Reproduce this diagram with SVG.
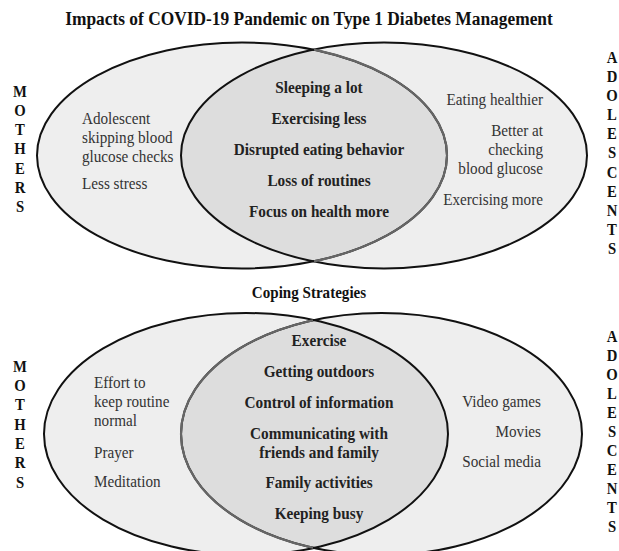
<svg xmlns="http://www.w3.org/2000/svg" width="619" height="551" viewBox="0 0 619 551">
<style>
text{font-family:"Liberation Serif","Times New Roman",serif}
.title{font-weight:bold;font-size:18.9px;fill:#111;text-anchor:middle}
.sub{font-weight:bold;font-size:16.4px;fill:#111;text-anchor:middle}
.lab{font-weight:bold;font-size:16px;fill:#111;text-anchor:middle}
.c{font-weight:bold;font-size:16.6px;fill:#222;text-anchor:middle}
.t{font-size:16.5px;fill:#333}
.r{text-anchor:end}
.ef{fill:#eeeeee}
.lens{fill:#dddddd}
.bk{fill:none;stroke:#111;stroke-width:2}
.gr{fill:none;stroke:#666;stroke-width:2.2}
</style>
<defs>
<clipPath id="clipTR"><ellipse cx="384" cy="155.5" rx="203" ry="113"/></clipPath>
<clipPath id="halfT"><rect x="314" y="0" width="200" height="290"/></clipPath>
<clipPath id="clipBR"><ellipse cx="381.5" cy="434" rx="200.5" ry="121"/></clipPath>
<clipPath id="halfB"><rect x="100" y="300" width="213" height="260"/></clipPath>
</defs>
<g id="top-venn">
<g id="top-mothers"><ellipse class="ef" cx="242" cy="155.5" rx="205" ry="113"/></g>
<g id="top-adolescents"><ellipse class="ef" cx="384" cy="155.5" rx="203" ry="113"/></g>
<g id="top-both"><ellipse class="lens" cx="242" cy="155.5" rx="205" ry="113" clip-path="url(#clipTR)"/></g>
</g>
<g id="bottom-venn">
<g id="bot-mothers"><ellipse class="ef" cx="246" cy="434" rx="202" ry="121"/></g>
<g id="bot-adolescents"><ellipse class="ef" cx="381.5" cy="434" rx="200.5" ry="121"/></g>
<g id="bot-both"><ellipse class="lens" cx="246" cy="434" rx="202" ry="121" clip-path="url(#clipBR)"/></g>
</g>
<g id="connectors">
<ellipse class="bk" cx="242" cy="155.5" rx="205" ry="113"/>
<ellipse class="bk" cx="384" cy="155.5" rx="203" ry="113"/>
<ellipse class="gr" cx="242" cy="155.5" rx="205" ry="113" clip-path="url(#halfT)"/>
<ellipse class="bk" cx="246" cy="434" rx="202" ry="121"/>
<ellipse class="bk" cx="381.5" cy="434" rx="200.5" ry="121"/>
<ellipse class="gr" cx="381.5" cy="434" rx="200.5" ry="121" clip-path="url(#halfB)"/>
</g>
<g id="texts" transform="scale(0.92 1)">
<text class="title" x="335.87" y="25">Impacts of COVID-19 Pandemic on Type 1 Diabetes Management</text>
<text class="sub" x="335.87" y="298">Coping Strategies</text>
<g id="top-labels">
<text class="lab" x="21.74" y="97">M</text><text class="lab" x="21.74" y="116">O</text><text class="lab" x="21.74" y="135">T</text><text class="lab" x="21.74" y="154">H</text><text class="lab" x="21.74" y="174">E</text><text class="lab" x="21.74" y="193">R</text><text class="lab" x="21.74" y="212">S</text>
<text class="lab" x="665.22" y="63">A</text><text class="lab" x="665.22" y="82">D</text><text class="lab" x="665.22" y="101">O</text><text class="lab" x="665.22" y="120">L</text><text class="lab" x="665.22" y="139">E</text><text class="lab" x="665.22" y="158">S</text><text class="lab" x="665.22" y="178">C</text><text class="lab" x="665.22" y="197">E</text><text class="lab" x="665.22" y="216">N</text><text class="lab" x="665.22" y="235">T</text><text class="lab" x="665.22" y="254">S</text>
<text class="t" x="89.13" y="124">Adolescent</text>
<text class="t" x="89.13" y="143">skipping blood</text>
<text class="t" x="89.13" y="162">glucose checks</text>
<text class="t" x="89.13" y="189">Less stress</text>
<text class="c" x="346.74" y="93">Sleeping a lot</text>
<text class="c" x="346.74" y="124">Exercising less</text>
<text class="c" x="346.74" y="155">Disrupted eating behavior</text>
<text class="c" x="346.74" y="186">Loss of routines</text>
<text class="c" x="346.74" y="217">Focus on health more</text>
<text class="t r" x="590.22" y="105">Eating healthier</text>
<text class="t r" x="590.22" y="136">Better at</text>
<text class="t r" x="590.22" y="155">checking</text>
<text class="t r" x="590.22" y="174">blood glucose</text>
<text class="t r" x="590.22" y="205">Exercising more</text>
</g>
<g id="bottom-labels">
<text class="lab" x="21.74" y="372">M</text><text class="lab" x="21.74" y="391">O</text><text class="lab" x="21.74" y="410">T</text><text class="lab" x="21.74" y="430">H</text><text class="lab" x="21.74" y="449">E</text><text class="lab" x="21.74" y="468">R</text><text class="lab" x="21.74" y="488">S</text>
<text class="lab" x="665.22" y="342">A</text><text class="lab" x="665.22" y="361">D</text><text class="lab" x="665.22" y="380">O</text><text class="lab" x="665.22" y="399">L</text><text class="lab" x="665.22" y="418">E</text><text class="lab" x="665.22" y="437">S</text><text class="lab" x="665.22" y="456">C</text><text class="lab" x="665.22" y="475">E</text><text class="lab" x="665.22" y="494">N</text><text class="lab" x="665.22" y="513">T</text><text class="lab" x="665.22" y="532">S</text>
<text class="t" x="102.17" y="388">Effort to</text>
<text class="t" x="102.17" y="407">keep routine</text>
<text class="t" x="102.17" y="426">normal</text>
<text class="t" x="102.17" y="458">Prayer</text>
<text class="t" x="102.17" y="487">Meditation</text>
<text class="c" x="346.74" y="346">Exercise</text>
<text class="c" x="346.74" y="377">Getting outdoors</text>
<text class="c" x="346.74" y="408">Control of information</text>
<text class="c" x="346.74" y="439">Communicating with</text>
<text class="c" x="346.74" y="458">friends and family</text>
<text class="c" x="346.74" y="488">Family activities</text>
<text class="c" x="346.74" y="519">Keeping busy</text>
<text class="t r" x="588.04" y="407">Video games</text>
<text class="t r" x="588.04" y="437">Movies</text>
<text class="t r" x="588.04" y="467">Social media</text>
</g>
</g>
</svg>
